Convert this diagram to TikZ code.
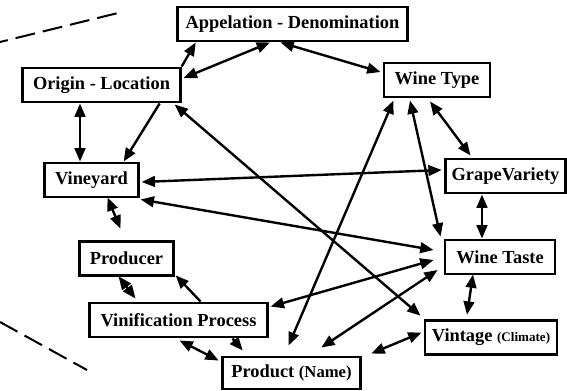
\documentclass[tikz,border=0pt]{standalone}
\usepackage{fontspec}
\setmainfont{Liberation Serif}
\usepackage{tikz}
\usetikzlibrary{arrows.meta,calc,positioning}

\tikzset{
  entity/.style={draw, line width=2.2pt, inner sep=0pt, minimum height=25.5pt,
    font=\bfseries\fontsize{13.8}{15}\selectfont},
  link/.style={line width=1.8pt, {Triangle[length=10pt,width=8pt]}-{Triangle[length=10pt,width=8pt]}},
  linkone/.style={line width=1.8pt, -{Triangle[length=10pt,width=8pt]}},
  guide/.style={line width=1.5pt, dash pattern=on 15pt off 6pt},
}
\newcommand{\smalltag}[1]{{\fontsize{9.8}{11}\selectfont #1}}

\begin{document}
\begin{tikzpicture}[x=0.75pt,y=0.75pt,yscale=-1,xscale=1]
  \useasboundingbox (0,0) rectangle (567,390);

  % Dashed guide lines
  \draw [guide, dash phase=9pt] (0,42) -- (118,13);
  \draw [guide] (0,322) -- (87,370);

  % Entity boxes
  \node [entity, minimum width=173pt] (appel) at (292.5,24) {Appelation - Denomination};
  \node [entity, minimum width=118pt] (origin) at (101.5,85) {Origin - Location};
  \node [entity, minimum width=79.5pt] (winetype) at (437,80) {Wine Type};
  \node [entity, minimum width=70pt] (vineyard) at (91.5,180) {Vineyard};
  \node [entity, minimum width=90.5pt] (grape) at (505.5,176) {GrapeVariety};
  \node [entity, minimum width=70pt, minimum height=26pt] (producer) at (126.5,258.5) {Producer};
  \node [entity, minimum width=133pt] (vinif) at (178.5,320) {Vinification Process};
  \node [entity, minimum width=82.5pt] (winetaste) at (500,257) {Wine Taste};
  \node [entity, minimum width=99pt, minimum height=26pt] (vintage) at (491,337.5) {Vintage \smalltag{(Climate)}};
  \node [entity, minimum width=104pt, minimum height=24pt] (product) at (291.5,373) {Product {\fontsize{12.5}{13}\selectfont(Name)}};

  % Links around Origin - Location
  \draw [link] ($(origin.east)+(2,-7)$) -- ($(appel.south)+(-22.5,0)$);
  \draw [linkone] (origin.north east) -- ($(appel.south west)+(20,0)$);
  \draw [link] ($(origin.south)+(-21.5,0)$) -- ($(vineyard.north)+(-11.5,0)$);
  \draw [linkone] ($(origin.south east)+(-22,0)$) -- ($(vineyard.north east)+(-16,0)$);
  \draw [link] ($(origin.south east)+(-7,1)$) -- ($(vintage.north west)+(-3,-3)$);

  % Links around Wine Type
  \draw [link] ($(appel.south)+(-12,0)$) -- ($(winetype.west)+(-2,-8)$);
  \draw [link] ($(winetype.south)+(-27,2)$) -- ($(winetaste.north west)+(-3,-2)$);
  \draw [link] ($(winetype.south west)+(11,2)$) -- ($(product.north)+(-3,-10)$);
  \draw [link] ($(winetype.south)+(-7,3)$) -- ($(grape.north)+(-35,-2)$);

  % Links around Vineyard
  \draw [link] ($(vineyard.east)+(2,2)$) -- ($(grape.west)+(-2,-6)$);
  \draw [link] ($(vineyard.south east)+(1,1)$) -- ($(winetaste.west)+(-10,-7)$);
  \draw [link] ($(vineyard.south)+(16,-1)$) -- ($(producer.north)+(-6,-11)$);

  % Links around Wine Taste
  \draw [link] ($(grape.south)+(-23.5,0)$) -- ($(winetaste.north)+(-18,0)$);
  \draw [link] ($(winetaste.south)+(-27,-1)$) -- ($(vintage.north)+(-24,-4)$);
  \draw [link] ($(winetaste.west)+(-10,3)$) -- ($(vinif.north east)+(2,5)$);
  \draw [link] ($(winetaste.west)+(-6,13)$) -- ($(product.north east)+(-41,-8)$);
  \draw [link] ($(vintage.west)+(-2,-5)$) -- ($(product.north east)+(9,-2)$);

  % Links around Vinification Process
  \draw [link] ($(producer.south)+(-8,-1)$) -- ($(vinif.north)+(-43,-3)$);
  \draw [linkone] ($(vinif.north)+(22,0)$) -- ($(producer.south east)+(1,-2)$);
  \draw [link] ($(vinif.south)+(1,2)$) -- ($(product.north west)+(-2,5)$);
  \draw [linkone] ($(vinif.south)+(54,0)$) -- ($(product.north west)+(22,-5)$);
\end{tikzpicture}
\end{document}
